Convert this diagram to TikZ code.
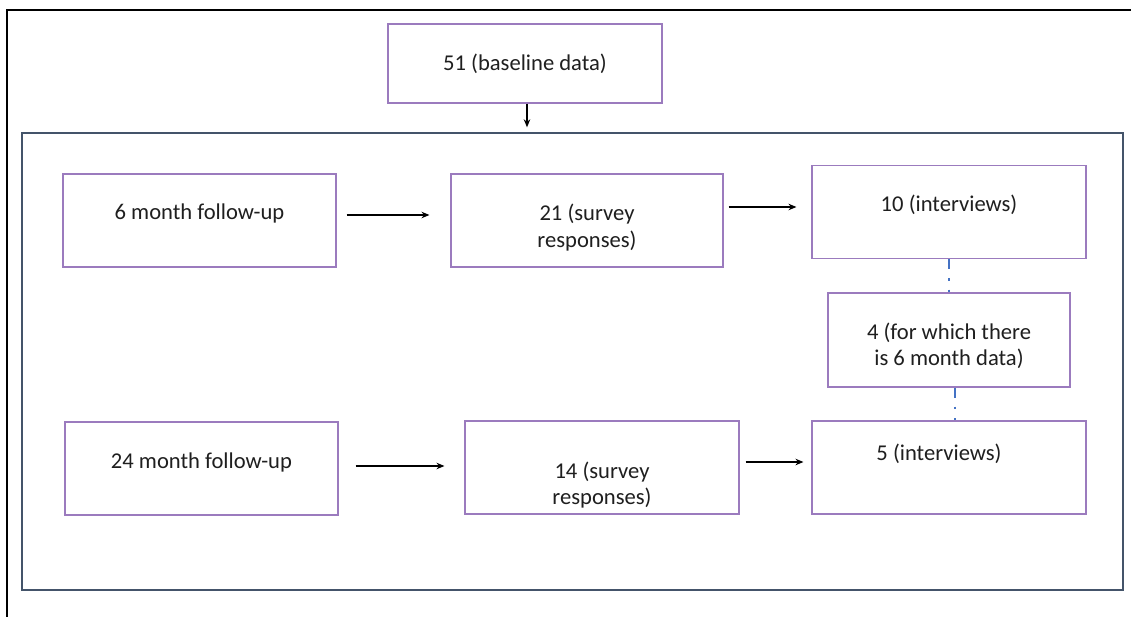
\documentclass[tikz,border=0pt]{standalone}
\usepackage{fontspec}
\setmainfont{Carlito}
\usetikzlibrary{arrows.meta}
\definecolor{boxpurple}{HTML}{9B7BBE}
\definecolor{framegray}{HTML}{44546A}
\definecolor{dotblue}{HTML}{4472C4}
\begin{document}
\begin{tikzpicture}[x=1pt,y=-1pt,
  box/.style={draw=boxpurple,line width=1.1pt,fill=white,inner sep=0pt,minimum width=#1},
  box/.default=273pt,
  txt/.style={font=\fontsize{22.6}{26.5}\selectfont,align=center,text=black!88},
  arr/.style={-{Stealth[length=8pt,width=6.5pt]},line width=1.1pt,black},
  dotc/.style={dotblue,line width=2.8pt,dash pattern=on 10pt off 9pt on 2.5pt off 9pt}]
\useasboundingbox (0,0) rectangle (1131,617);
\fill[white] (0,0) rectangle (1131,617);
\draw[line width=2.6pt,black] (1131,10) -- (7,10) -- (7,617);
\node[draw=framegray,line width=1.4pt,inner sep=0pt,minimum width=1101pt,minimum height=457pt] (frame) at (572.5,361.5) {};
\node[box=274pt,minimum height=79pt] (base) at (525,63.5) {};
\node[txt] at (base.center) {51 (baseline data)};
\node[box=273pt,minimum height=93pt] (m6) at (199.5,220.5) {};
\node[txt] at ([yshift=7.5pt]m6.center) {6 month follow-up};
\node[box=272pt,minimum height=93pt] (s21) at (587,220.5) {};
\node[txt] at ([yshift=-7pt]s21.center) {21 (survey\\responses)};
\node[box=274pt,minimum height=93pt] (i10) at (949,212) {};
\node[txt] at ([yshift=7pt]i10.center) {10 (interviews)};
\node[box=242pt,minimum height=94pt] (f4) at (949,340) {};
\node[txt] at ([yshift=-6pt]f4.center) {4 (for which there\\is 6 month data)};
\node[box=273pt,minimum height=93pt] (m24) at (201.5,468.5) {};
\node[txt] at ([yshift=6.5pt]m24.center) {24 month follow-up};
\node[box=274pt,minimum height=93pt] (s14) at (602,467.5) {};
\node[txt] at ([yshift=-17.5pt]s14.center) {14 (survey\\responses)};
\node[box=274pt,minimum height=93pt] (i5) at (949,467.5) {};
\node[txt] at ([xshift=-10pt,yshift=13.5pt]i5.center) {5 (interviews)};
\draw[arr,shorten >=5pt] ([xshift=2pt]base.south) -- ([xshift=2pt]base.south |- frame.north);
\draw[arr,shorten <=10pt,shorten >=21pt] ([yshift=5.5pt]m6.east) -- ([yshift=5.5pt]s21.west);
\draw[arr,shorten <=5pt,shorten >=15pt] ([yshift=13.5pt]s21.east) -- ([yshift=5pt]i10.west);
\draw[arr,shorten <=17pt,shorten >=20pt] ([yshift=2.5pt]m24.east) -- ([yshift=1.5pt]s14.west);
\draw[arr,shorten <=6pt,shorten >=8pt] ([yshift=5.5pt]s14.east) -- ([yshift=5.5pt]i5.west);
\draw[dotc] (i10.south) -- (f4.north);
\draw[dotc] ([xshift=6pt]f4.south) -- ([xshift=6pt]i5.north);
\end{tikzpicture}
\end{document}
